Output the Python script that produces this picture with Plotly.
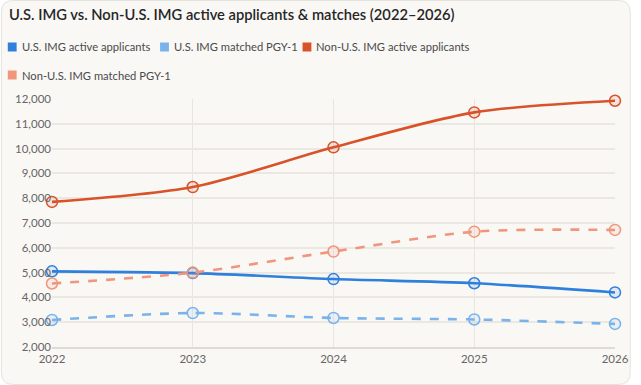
import plotly.graph_objects as go

years = [2022, 2023, 2024, 2025, 2026]
us_active = [5050, 4980, 4740, 4570, 4200]
us_matched = [3090, 3370, 3170, 3110, 2930]
nonus_active = [7850, 8450, 10050, 11460, 11930]
nonus_matched = [4560, 5000, 5850, 6650, 6720]

series = [
    ("U.S. IMG active applicants", us_active, "#2f7fdc", "solid"),
    ("U.S. IMG matched PGY-1", us_matched, "#7ab2ec", "dash"),
    ("Non-U.S. IMG active applicants", nonus_active, "#d8532a", "solid"),
    ("Non-U.S. IMG matched PGY-1", nonus_matched, "#f0967c", "dash"),
]
yticks = list(range(2000, 12001, 1000))

FONT = "Lato, sans-serif"

def rgba(h, a):
    h = h.lstrip("#")
    return "rgba(%d,%d,%d,%.2f)" % (int(h[0:2], 16), int(h[2:4], 16), int(h[4:6], 16), a)

fig = go.Figure()
for name, vals, col, dash in series:
    fig.add_trace(go.Scatter(
        x=years, y=vals, name=name, mode="lines+markers",
        line=dict(color=col, width=2.6, dash=dash, shape="spline", smoothing=0.8),
        marker=dict(symbol="circle", size=11, color=rgba(col, 0.12),
                    line=dict(color=col, width=1.5)),
        cliponaxis=False, showlegend=False,
    ))

W, H = 641, 385
ml, mr, mt, mb = 52, 16, 99, 38
pw = W - ml - mr
ph = H - mt - mb

def px2x(px):
    return (px - ml) / pw

def py2y(py):
    return 1 - (py - mt) / ph

shapes = []
annotations = []

# rounded card background
r = 12
x0p, x1p, y0p, y1p = 0.5, W - 0.5, 0.5, H - 0.5
def P(px, py):
    return "%.5f,%.5f" % (px2x(px), py2y(py))
path = ("M " + P(x0p + r, y0p) + " L " + P(x1p - r, y0p) +
        " Q " + P(x1p, y0p) + " " + P(x1p, y0p + r) +
        " L " + P(x1p, y1p - r) +
        " Q " + P(x1p, y1p) + " " + P(x1p - r, y1p) +
        " L " + P(x0p + r, y1p) +
        " Q " + P(x0p, y1p) + " " + P(x0p, y1p - r) +
        " L " + P(x0p, y0p + r) +
        " Q " + P(x0p, y0p) + " " + P(x0p + r, y0p) + " Z")
shapes.append(dict(type="path", path=path, xref="paper", yref="paper",
                   fillcolor="#f9f8f5", line=dict(color="#e4e2dd", width=1), layer="below"))

# custom legend
leg_pos = [(7, 47), (162, 47), (307, 47), (7, 75)]
for (name, vals, col, dash), (lx, ly) in zip(series, leg_pos):
    shapes.append(dict(type="rect", xref="paper", yref="paper",
                       x0=px2x(lx), x1=px2x(lx + 9), y0=py2y(ly + 4.5), y1=py2y(ly - 4.5),
                       fillcolor=col, line=dict(width=0), layer="above"))
    annotations.append(dict(text=name, xref="paper", yref="paper",
                            x=px2x(lx + 12), y=py2y(ly), xanchor="left", yanchor="middle",
                            showarrow=False, font=dict(size=11.2, color="#4a4a4a", family=FONT)))

annotations.append(dict(text="U.S. IMG vs. Non-U.S. IMG active applicants &amp; matches (2022–2026)",
                        xref="paper", yref="paper", x=px2x(6), y=py2y(14),
                        xanchor="left", yanchor="middle", showarrow=False,
                        font=dict(size=14.7, color="#262626", family=FONT, weight=600)))

fig.update_layout(
    width=W, height=H,
    margin=dict(l=ml, r=mr, t=mt, b=mb),
    paper_bgcolor="#ffffff", plot_bgcolor="rgba(0,0,0,0)",
    shapes=shapes, annotations=annotations,
    font=dict(family=FONT, color="#666666", size=11),
    xaxis=dict(range=[2022, 2026], tickvals=years, ticktext=[str(y) for y in years],
               showgrid=True, gridcolor="#e9e6e0", gridwidth=1, zeroline=False,
               showline=True, linecolor="#dedbd5", linewidth=1.5,
               tickfont=dict(size=11.5, color="#666666"), ticks=""),
    yaxis=dict(range=[2000, 12000], tickvals=yticks,
               ticktext=["{:,}".format(v) for v in yticks],
               showgrid=True, gridcolor="#ebe8e2", gridwidth=1.5, zeroline=False,
               showline=False, tickfont=dict(size=11.5, color="#666666"), ticks=""),
)

fig.write_html("out.html")
